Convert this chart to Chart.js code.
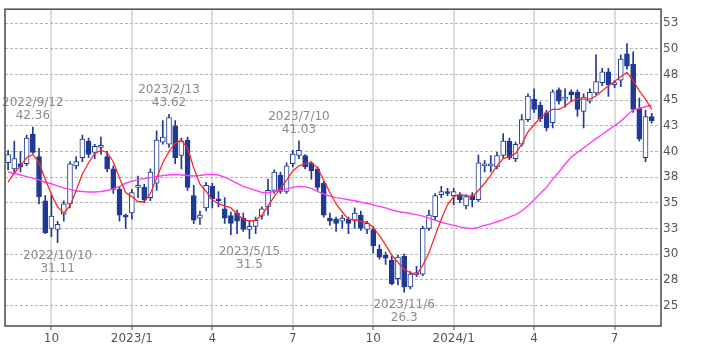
<!DOCTYPE html>
<html>
<head>
<meta charset="utf-8">
<script src="https://cdn.jsdelivr.net/npm/chart.js@4.4.0/dist/chart.umd.min.js"></script>
<style>
  html, body { margin: 0; padding: 0; background: #fff; }
</style>
</head>
<body>
<canvas id="chart" width="709" height="354"></canvas>
<script>
// Weekly candles, first week 2022/8/15, one entry per week
const openP = [
  38.9, 38.3, 38.8, 38.8, 41.7, 39.5, 35.2, 32.5, 32.4, 33.9,
  34.9, 38.6, 39.4, 41.0, 39.9, 40.4, 39.5, 38.3, 36.3, 33.75,
  34.0, 36.5, 36.5, 35.5, 36.9, 40.9, 40.7, 42.5, 39.6, 41.1,
  35.7, 33.5, 34.5, 36.6, 35.3, 34.4, 33.75, 34.0, 33.5, 32.4,
  32.7, 33.7, 34.6, 36.2, 37.7, 36.1, 38.8, 39.6, 39.6, 38.9,
  38.3, 36.9, 33.5, 33.4, 33.2, 33.4, 33.3, 33.8, 32.4, 32.4,
  30.5, 29.9, 29.4, 27.6, 29.8, 26.8, 28.0, 28.05, 32.5, 33.65,
  35.8, 36.0, 35.7, 35.8, 34.7, 35.7, 35.3, 38.6, 38.6, 38.5,
  39.6, 41.0, 39.3, 40.7, 43.1, 45.1, 44.5, 43.75, 42.8, 46.0,
  45.1, 45.8, 45.75, 43.9, 44.9, 45.7, 46.7, 47.75, 46.5, 46.95,
  49.5, 48.5, 44.2, 39.4, 43.4
];
const highP = [
  40.1, 41.0, 40.0, 41.6, 42.36, 40.3, 35.7, 35.8, 33.2, 35.2,
  39.0, 39.5, 41.6, 41.3, 40.7, 41.4, 40.0, 38.6, 36.5, 33.9,
  36.3, 37.6, 36.8, 38.3, 42.0, 43.0, 43.62, 43.0, 41.3, 41.4,
  36.7, 34.2, 37.0, 36.9, 36.1, 35.5, 34.1, 34.3, 34.0, 33.3,
  33.6, 34.6, 37.3, 38.2, 38.0, 38.9, 40.1, 41.03, 39.7, 39.0,
  38.5, 37.1, 34.0, 33.6, 33.8, 33.6, 34.5, 34.2, 33.2, 32.7,
  30.9, 30.2, 29.8, 29.9, 30.0, 28.3, 28.8, 32.7, 34.3, 35.9,
  36.6, 36.4, 36.4, 36.0, 35.8, 36.0, 39.65, 39.1, 39.6, 39.9,
  41.75, 41.3, 40.9, 43.6, 45.6, 46.1, 44.8, 44.0, 46.0, 46.2,
  46.1, 46.0, 46.0, 45.6, 46.1, 49.4, 48.1, 48.1, 46.9, 49.4,
  50.5, 49.7, 45.2, 44.0, 43.7
];
const lowP = [
  38.2, 38.0, 38.0, 38.6, 39.8, 34.9, 32.0, 31.7, 31.11, 33.2,
  34.5, 38.3, 39.0, 39.4, 39.3, 39.7, 38.0, 35.9, 33.2, 32.5,
  33.4, 35.5, 35.0, 35.2, 36.2, 40.7, 40.4, 38.8, 38.3, 36.2,
  33.0, 32.9, 34.2, 34.5, 34.6, 33.0, 31.9, 32.0, 32.2, 31.5,
  32.0, 33.4, 33.8, 35.9, 35.9, 35.9, 38.5, 39.3, 38.3, 37.3,
  36.2, 33.6, 32.8, 32.2, 32.5, 32.0, 32.5, 32.3, 32.0, 30.1,
  29.5, 29.0, 27.0, 27.0, 26.3, 26.6, 27.8, 27.9, 32.3, 33.3,
  35.5, 35.7, 34.8, 35.0, 34.4, 34.6, 35.1, 38.0, 38.0, 38.3,
  39.4, 39.2, 39.0, 40.5, 42.9, 43.8, 42.9, 42.0, 42.3, 44.6,
  44.3, 44.9, 43.4, 42.3, 44.7, 45.5, 46.4, 45.35, 46.2, 46.3,
  48.0, 43.8, 41.0, 39.0, 42.75
];
const closeP = [
  39.7, 39.3, 38.5, 41.3, 39.9, 35.6, 32.1, 33.7, 32.9, 34.9,
  38.8, 39.0, 41.2, 39.7, 40.5, 40.5, 38.3, 36.3, 33.8, 33.6,
  36.0, 36.6, 35.3, 38.0, 41.1, 41.4, 43.3, 39.4, 41.0, 36.5,
  33.3, 33.8, 36.7, 35.4, 35.2, 33.5, 33.0, 33.2, 32.4, 32.7,
  33.3, 34.4, 36.2, 38.0, 36.1, 38.6, 39.75, 40.1, 38.5, 38.1,
  36.5, 33.8, 33.2, 33.0, 33.5, 33.0, 34.0, 32.5, 33.0, 30.8,
  29.7, 29.6, 27.1, 29.7, 26.8, 28.05, 28.2, 32.5, 33.8, 35.7,
  36.1, 35.9, 36.1, 35.3, 35.6, 35.3, 38.9, 38.7, 38.7, 39.6,
  41.0, 39.4, 40.7, 43.1, 45.4, 44.1, 43.2, 42.3, 45.8, 44.9,
  45.2, 45.5, 44.1, 45.3, 45.75, 46.8, 47.75, 46.5, 46.6, 49.0,
  48.3, 44.1, 41.2, 43.4, 43.0
];

// moving averages
const maShort = [
  37.0, 37.9, 38.6, 39.4, 39.7, 38.9, 37.3, 35.8, 34.6, 34.0,
  34.7, 36.2, 37.8, 38.9, 39.8, 40.1, 39.9, 39.0, 37.4, 36.0,
  35.6, 35.1, 35.1, 35.9, 37.4, 38.9, 40.0, 40.8, 41.1, 40.3,
  38.4, 36.8, 36.1, 35.3, 34.9, 34.7, 34.5, 33.9, 33.4, 33.2,
  33.3, 33.8, 34.7, 35.6, 36.4, 37.2, 38.1, 38.6, 38.8, 38.9,
  38.4, 37.2, 36.0, 34.9, 34.1, 33.4, 33.3, 33.2, 33.1, 32.6,
  31.8, 30.9, 29.9, 29.2, 28.5, 28.2, 28.0, 28.9, 30.1, 31.8,
  33.4, 34.8, 35.6, 35.8, 35.7, 35.6, 36.2, 36.9, 37.7, 38.6,
  39.3, 39.5, 39.8, 40.7, 41.9, 42.6, 43.3, 43.7, 44.1, 44.1,
  44.4, 44.9, 45.1, 45.1, 45.1, 45.4, 45.9, 46.4, 46.8, 47.3,
  47.7, 46.9, 45.9, 45.1, 44.1
];
const maLong = [
  38.0, 37.85, 37.7, 37.55, 37.4, 37.2, 37.0, 36.85, 36.65, 36.45,
  36.3, 36.15, 36.1, 36.05, 36.05, 36.1, 36.2, 36.35, 36.6, 36.9,
  37.1, 37.25, 37.35, 37.45, 37.55, 37.65, 37.7, 37.75, 37.7, 37.65,
  37.6, 37.65, 37.75, 37.75, 37.7, 37.5, 37.2, 36.9, 36.6, 36.4,
  36.2, 36.0, 36.0, 36.1, 36.2, 36.35, 36.5, 36.6, 36.55, 36.4,
  36.1, 35.85, 35.65, 35.5, 35.4, 35.3, 35.2, 35.05, 34.95, 34.8,
  34.65, 34.5, 34.3, 34.15, 34.05, 33.95, 33.85, 33.7, 33.5, 33.3,
  33.1, 32.95, 32.8, 32.65, 32.55, 32.5, 32.6, 32.8, 32.95, 33.15,
  33.35, 33.6, 33.85, 34.2, 34.7, 35.3, 35.9, 36.5, 37.3, 38.0,
  38.75, 39.45, 39.9, 40.35, 40.8, 41.25, 41.65, 42.1, 42.5, 42.95,
  43.5, 44.05, 44.2, 44.35, 44.5
];

// x axis: week index of first week of each quarter
const tickWeeks = [7, 20, 33, 46, 59, 72, 85, 98];
const tickLabels = ["10", "2023/1", "4", "7", "10", "2024/1", "4", "7"];
const yTicks = [25, 27.5, 30, 32.5, 35, 37.5, 40, 42.5, 45, 47.5, 50, 52.5];

// high / low notes
const noteWeeks = [4, 26, 47, 8, 39, 64];
const noteDates = ["2022/9/12", "2023/2/13", "2023/7/10", "2022/10/10", "2023/5/15", "2023/11/6"];
const noteValues = [42.36, 43.62, 41.03, 31.11, 31.5, 26.3];
const noteAbove = [true, true, true, false, false, false];

const navy = "#1f3a94";
const weeks = closeP.map((_, i) => i);

const notesPlugin = {
  id: "notes",
  afterDatasetsDraw(chart) {
    const c = chart.ctx;
    const xs = chart.scales.x, ys = chart.scales.y;
    c.save();
    c.font = "12px 'DejaVu Sans'";
    c.fillStyle = "#8a8a8a";
    c.textAlign = "center";
    c.textBaseline = "middle";
    noteWeeks.forEach((w, k) => {
      const x = xs.getPixelForValue(w);
      const y = ys.getPixelForValue(noteValues[k]);
      if (noteAbove[k]) {
        c.fillText(noteDates[k], x, y - 24);
        c.fillText(String(noteValues[k]), x, y - 11);
      } else {
        c.fillText(noteDates[k], x, y + 13);
        c.fillText(String(noteValues[k]), x, y + 26);
      }
    });
    c.restore();
  },
  afterDraw(chart) {
    const a = chart.chartArea;
    const c = chart.ctx;
    c.save();
    c.strokeStyle = "#555";
    c.lineWidth = 1.6;
    c.strokeRect(a.left, a.top, a.right - a.left, a.bottom - a.top);
    c.restore();
  }
};

new Chart(document.getElementById("chart").getContext("2d"), {
  type: "bar",
  data: {
    datasets: [
      {
        type: "line",
        data: weeks.map(i => ({ x: i, y: maShort[i] })),
        borderColor: "#ff2626",
        borderWidth: 1.3,
        pointRadius: 0,
        tension: 0,
        order: 0
      },
      {
        type: "line",
        data: weeks.map(i => ({ x: i, y: maLong[i] })),
        borderColor: "#ff3cff",
        borderWidth: 1.4,
        pointRadius: 0,
        tension: 0,
        order: 0
      },
      {
        data: weeks.map(i => ({ x: i, y: [openP[i], closeP[i]] })),
        backgroundColor: weeks.map(i => closeP[i] >= openP[i] ? "#ffffff" : navy),
        borderColor: navy,
        borderWidth: 1,
        borderSkipped: false,
        barThickness: 5,
        minBarLength: 2,
        grouped: false,
        order: 1
      },
      {
        data: weeks.map(i => ({ x: i, y: [lowP[i], highP[i]] })),
        backgroundColor: navy,
        barThickness: 1,
        grouped: false,
        order: 2
      }
    ]
  },
  options: {
    responsive: false,
    animation: false,
    layout: { padding: { left: 5, top: 5, right: 0, bottom: 0 } },
    plugins: { legend: { display: false }, tooltip: { enabled: false } },
    scales: {
      x: {
        type: "linear",
        min: -0.5,
        max: 105.5,
        offset: false,
        afterBuildTicks: s => { s.ticks = tickWeeks.map(v => ({ value: v })); },
        afterFit: s => { s.height = 28; },
        ticks: {
          autoSkip: false,
          maxRotation: 0,
          padding: 2,
          color: "#555",
          font: { family: "DejaVu Sans", size: 12 },
          callback: v => tickLabels[tickWeeks.indexOf(v)]
        },
        grid: { offset: false, color: "#dddddd", lineWidth: 2, tickColor: "#555", tickLength: 4, tickWidth: 1 },
        border: { display: false }
      },
      y: {
        position: "right",
        min: 23,
        max: 53.85,
        afterBuildTicks: s => { s.ticks = yTicks.map(v => ({ value: v })); },
        afterFit: s => { s.width = 48; },
        ticks: {
          padding: 2,
          color: "#555",
          font: { family: "DejaVu Sans", size: 12 },
          callback: v => Math.round(v)
        },
        grid: { color: "#b5b5b5", lineWidth: 1, drawTicks: false },
        border: { display: false, dash: [3, 2] }
      }
    }
  },
  plugins: [notesPlugin]
});
</script>
</body>
</html>
